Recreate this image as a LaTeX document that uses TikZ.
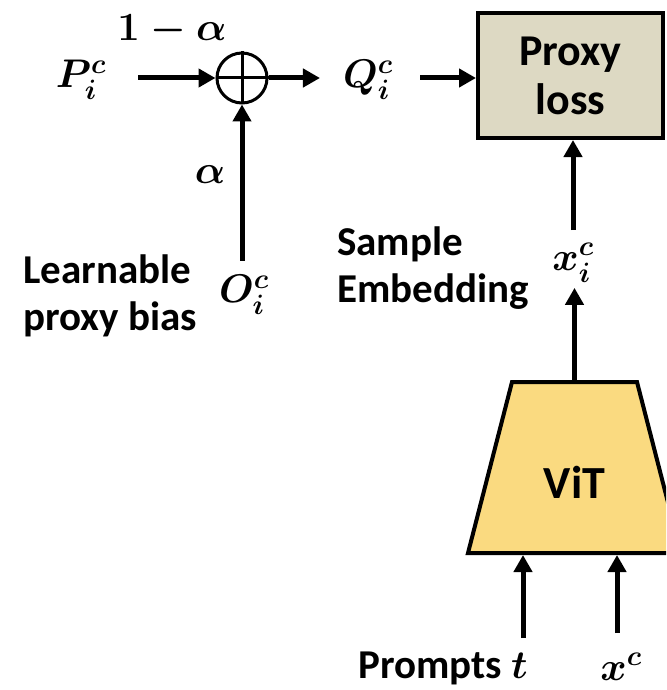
\RequirePackage{fix-cm}
\documentclass[tikz,border=0pt]{standalone}
\usepackage{amsmath}
\usepackage{fontspec}
\setmainfont{Carlito}
\usetikzlibrary{arrows.meta, positioning, shapes.geometric}
\definecolor{losstan}{RGB}{221,217,195}
\definecolor{vitgold}{RGB}{250,218,128}

\begin{document}
\begin{tikzpicture}[x=1pt, y=-1pt,
    txtlabel/.style={
        font=\fontsize{41}{47}\selectfont\bfseries,
        align=left, inner sep=0pt
    },
    sym/.style={
        font=\fontsize{40}{48}\selectfont\boldmath,
        inner sep=0pt
    },
    flow/.style={
        -{Triangle[length=17pt, width=18pt]},
        line width=5pt
    }
]
\clip (0,0) rectangle (666,690);

% top row
\node[sym] (p) at (81,80) {$P_i^c$};
\node[sym] (w1) at (172,30) {$1-\alpha$};
\node[draw, circle, line width=3pt,
    minimum size=50pt, inner sep=0pt]
    (sum) at (242,78) {};
\draw[line width=3pt] (sum.north) -- (sum.south)
    (sum.west) -- (sum.east);
\node[sym] (q) at (368,80) {$Q_i^c$};
\node[draw, line width=4pt, fill=losstan,
    minimum width=185pt, minimum height=125pt,
    align=center, font=\fontsize{44}{49}\selectfont\bfseries]
    (loss) at (570.5,75.5) {Proxy\\loss};

% proxy bias branch
\node[sym] (w2) at (210,175) {$\alpha$};
\node[sym] (o) at (244,295) {$O_i^c$};
\node[txtlabel] (bias) at (110,296) {Learnable\\proxy bias};

% embedding branch
\node[txtlabel] (emb) at (433,268) {Sample\\Embedding};
\node[sym] (x) at (573,263) {$x_i^c$};
\fill[vitgold, draw=black, line width=4pt, line join=miter]
    (468,553) -- (512,382) -- (637,382) -- (681,553) -- cycle;
\node[font=\fontsize{46}{50}\selectfont\bfseries]
    (vit) at (574.5,482) {ViT};
\coordinate (vittop) at (574.5,382);
\coordinate (vitbot) at (574.5,555);

% inputs
\node[txtlabel] (prm) at (443,668)
    {Prompts {\fontsize{40}{48}\selectfont\boldmath$t$}};
\node[sym] (xc) at (621,667) {$x^c$};
\coordinate (tin) at (523,638);
\coordinate (xin) at (617,633);

\draw[flow, shorten <=32pt] (p.east |- sum.west) -- (sum.west);
\draw[flow, shorten >=23pt] (sum.east) -- (sum.east -| q.west);
\draw[flow, shorten <=27pt] (q.east |- sum.east) -- (sum.east -| loss.west);
\draw[flow] ([yshift=14pt]o.north -| sum.south) -- (sum.south);
\draw[flow] ([yshift=13pt]x.north) -- (x.north |- loss.south);
\draw[flow] (vittop) -- ([yshift=-5pt]vittop |- x.south);
\draw[flow] (tin) -- (tin |- vitbot);
\draw[flow] (xin) -- (xin |- vitbot);
\end{tikzpicture}
\end{document}
